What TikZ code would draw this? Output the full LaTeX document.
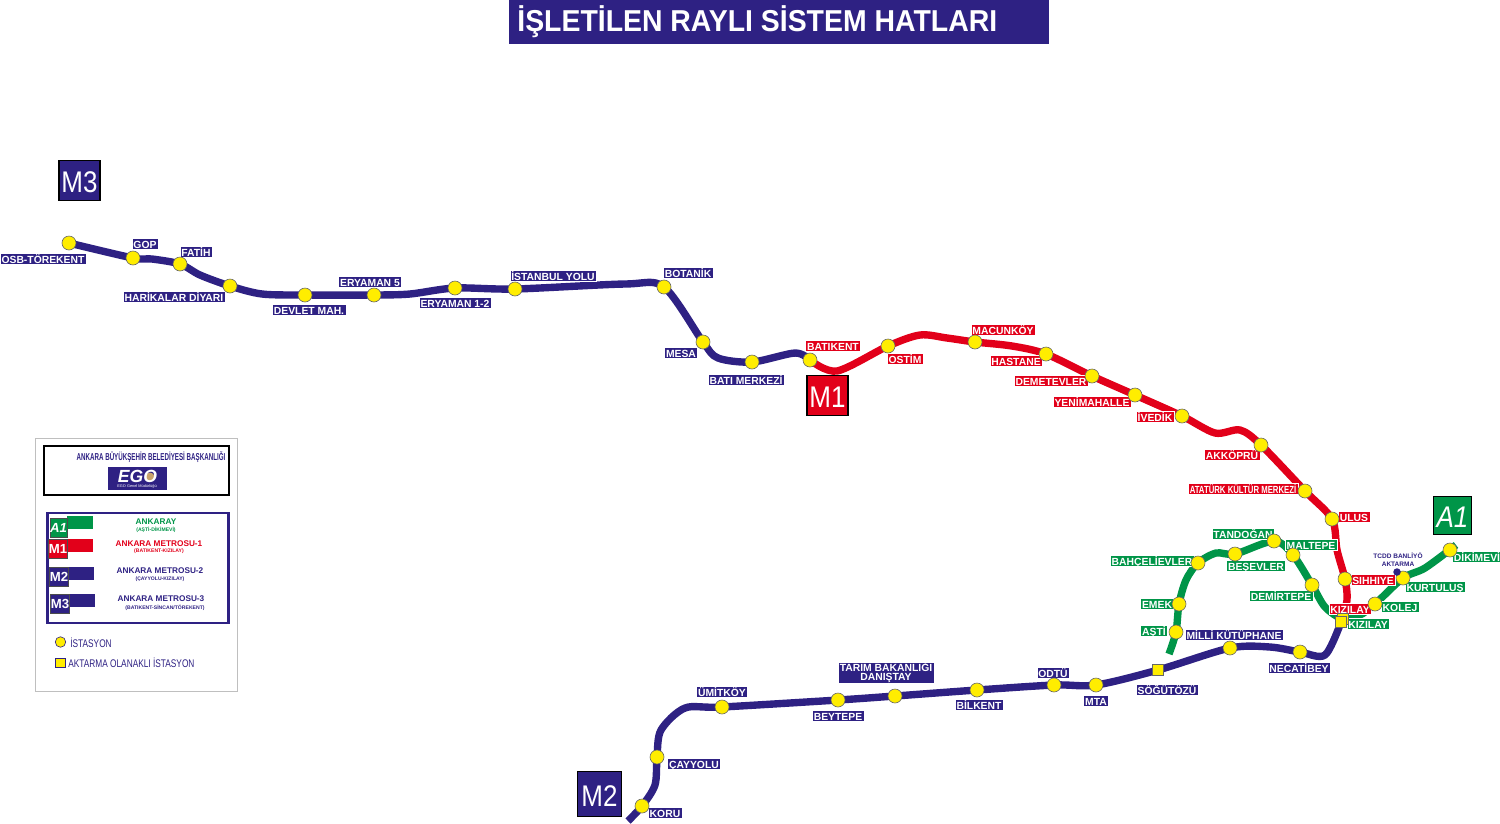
\documentclass[tikz,border=0pt]{standalone}
\usepackage{fontspec}
\setmainfont{Liberation Sans}
\newfontfamily\condfont[FakeStretch=0.75]{Liberation Sans}
\newfontfamily\narrowfont[FakeStretch=0.62]{Liberation Sans}
\newfontfamily\titlefont[FakeStretch=0.94]{Liberation Sans}
\newfontfamily\badgefont[FakeStretch=0.87]{Liberation Sans}
\usepackage{xcolor}
\usetikzlibrary{
    backgrounds,
    positioning
}
\definecolor{egonavy}{HTML}{2E2183}
\definecolor{egored}{HTML}{E2001A}
\definecolor{egogreen}{HTML}{009548}
\definecolor{egoyellow}{HTML}{FFED00}
\definecolor{egotan}{HTML}{C9A36B}

\begin{document}
\begin{tikzpicture}[
        x=0.02cm,
        y=-0.02cm,
        station/.style={
            circle,
            draw=black!60,
            fill=egoyellow,
            line width=0.35pt,
            inner sep=0pt,
            minimum size=0.28cm
        },
        transfer/.style={
            rectangle,
            draw=black!60,
            fill=egoyellow,
            line width=0.35pt,
            inner sep=0pt,
            minimum size=0.22cm
        },
        tagbase/.style={
            draw=white,
            line width=0.2pt,
            text=white,
            inner xsep=0.9pt,
            inner ysep=0.5pt,
            font=\fontsize{5.9}{7}\selectfont\bfseries
        },
        tag/.style={
            tagbase,
            text height=4.9pt,
            text depth=0.2pt
        },
        badge/.style={
            draw=black,
            line width=1.1pt,
            text=white,
            minimum width=0.82cm,
            minimum height=0.8cm,
            inner sep=0pt,
            text height=14pt,
            text depth=0pt,
            font=\badgefont\fontsize{17}{18}\selectfont
        },
        minibadge/.style={
            draw=black!70,
            line width=0.4pt,
            text=white,
            minimum width=0.32cm,
            minimum height=0.38cm,
            inner sep=0pt,
            font=\fontsize{7.5}{8}\selectfont\bfseries
        },
        bar/.style={
            minimum width=0.54cm,
            minimum height=0.26cm,
            inner sep=0pt
        },
        legendname/.style={
            inner sep=0pt,
            font=\fontsize{4.7}{6}\selectfont\bfseries
        },
        legendsub/.style={
            inner sep=0pt,
            font=\fontsize{2.9}{3.5}\selectfont\bfseries
        },
        legendnote/.style={
            anchor=west,
            inner sep=0pt,
            text=egonavy,
            font=\condfont\fontsize{6.3}{7}\selectfont
        },
        line/.style={
            line width=4.2pt,
            line join=round,
            smooth,
            tension=0.5
        }
    ]

    \useasboundingbox (0,0) rectangle (1500,823);

    % title
    \node[fill=egonavy, minimum width=10.8cm, minimum height=0.88cm, inner sep=0pt] (title) at (779,22) {};
    \node[anchor=west, inner sep=0pt, text=white, font=\titlefont\fontsize{17.2}{19}\selectfont\bfseries] (titletext) at (517,22)
        {İŞLETİLEN RAYLI SİSTEM HATLARI};

    % stations
    \foreach \name/\x/\y in {
        osb/69/243, gop/133/258, fatih/180/264, harikalar/230/286, devlet/305/295,
        eryamanfive/374/295, eryamanone/455/288, istanbul/515/289, botanik/664/287,
        mesa/703/342, batimerkezi/752/362, batikent/810/360,
        ostim/888/346, macunkoy/975/342, hastane/1046/354, demetevler/1092/376,
        yenimahalle/1135/395, ivedik/1182/416, akkopru/1261/445, ataturk/1305/491,
        ulus/1332/519, sihhiye/1345/579,
        koru/642/806, cayyolu/657/757, umitkoy/722/707, beytepe/838/700, tarim/895/696,
        bilkent/977/690, odtu/1054/685, mta/1096/685, milli/1230/648, necatibey/1300/652,
        asti/1176/632, emek/1179/604, bahcelievler/1198/563, besevler/1235/554,
        tandogan/1274/541, maltepe/1293/555, demirtepe/1312/585,
        kolej/1375/604, kurtulus/1403/578, dikimevi/1450/550
    }
        \node[station] (\name) at (\x,\y) {};

    \node[transfer] (kizilayback) at (1343,619) {};
    \node[transfer] (kizilay) at (1341,622) {};
    \node[transfer] (sogutozu) at (1158,670) {};

    \node[circle, fill=egonavy, inner sep=0pt, minimum size=0.15cm] (banliyo) at (1397,572) {};
    \node[text=egonavy, inner sep=0pt, align=center, font=\fontsize{3.7}{4.6}\selectfont\bfseries] (banliyotext) at (1398,560)
        {TCDD BANLİYÖ\\AKTARMA};

    % free line ends and bends
    \coordinate (mone) at (837,371);
    \coordinate (mtwo) at (920,335);
    \coordinate (mbend) at (947,338);
    \coordinate (mhas) at (1012,346);
    \coordinate (mthree) at (1215,433);
    \coordinate (mfour) at (1240,430);
    \coordinate (mfive) at (1337,550);
    \coordinate (msix) at (1347,600);
    \coordinate (koruend) at (628,821);
    \coordinate (cayone) at (655,785);
    \coordinate (caytwo) at (661,730);
    \coordinate (caythree) at (685,708);
    \coordinate (necone) at (1270,647);
    \coordinate (nectwo) at (1325,655);
    \coordinate (astiend) at (1169,654);
    \coordinate (emekone) at (1186,580);
    \coordinate (bahone) at (1216,553);
    \coordinate (demone) at (1325,607);
    \coordinate (kolone) at (1360,615);
    \coordinate (kurone) at (1425,568);
    \coordinate (dikend) at (1456,545);
    \coordinate (batione) at (795,353);
    \coordinate (mesaone) at (718,358);
    \coordinate (gopone) at (152,259);
    \coordinate (fatone) at (200,275);
    \coordinate (harone) at (262,294);
    \coordinate (eryone) at (410,294);
    \coordinate (botone) at (625,284);

    \begin{pgfonlayer}{background}
        \draw[line, color=egonavy] plot coordinates {
            (osb) (gop) (gopone) (fatih) (fatone) (harikalar) (harone) (devlet) (eryamanfive) (eryone)
            (eryamanone) (istanbul) (botone) (botanik) (mesa) (mesaone) (batimerkezi) (batione) (batikent)};
        \draw[line, color=egogreen] plot coordinates {
            (astiend) (asti) (emek) (emekone) (bahcelievler) (bahone) (besevler) (tandogan) (maltepe)
            (demirtepe) (demone) (kizilayback) (kolone) (kolej) (kurtulus) (kurone) (dikend)};
        \draw[line, color=egored] plot coordinates {
            (batikent) (mone) (ostim) (mtwo) (mbend) (macunkoy) (mhas) (hastane) (demetevler) (yenimahalle)
            (ivedik) (mthree) (mfour) (akkopru) (ataturk) (ulus) (mfive) (sihhiye) (msix) (kizilay)};
        \draw[line, color=egonavy] plot coordinates {
            (koruend) (koru) (cayone) (cayyolu) (caytwo) (caythree) (umitkoy) (beytepe) (tarim)
            (bilkent) (odtu) (mta) (sogutozu) (milli) (necone) (necatibey) (nectwo) (kizilay)};

        % station names
        \foreach \name/\x/\y/\txt in {
            tagosb/43/259/OSB-TÖREKENT, taggop/145/244/GOP, tagfatih/196/252/FATİH,
            tagharikalar/174/297/HARİKALAR DİYARI, tagdevlet/309/310/DEVLET MAH.,
            tageryamanfive/370/282/ERYAMAN 5, tageryamanone/455/303/ERYAMAN 1-2,
            tagistanbul/553/276/İSTANBUL YOLU, tagbotanik/688/273/BOTANİK, tagmesa/681/353/MESA,
            tagbatimerkezi/746/380/BATI MERKEZİ, tagumitkoy/722/692/ÜMİTKÖY,
            tagcayyolu/694/764/ÇAYYOLU, tagkoru/665/813/KORU, tagbeytepe/838/716/BEYTEPE,
            tagbilkent/979/705/BİLKENT, tagodtu/1053/673/ODTÜ, tagmta/1096/701/MTA,
            tagsogutozu/1167/690/SÖĞÜTÖZÜ, tagmilli/1234/635/MİLLİ KÜTÜPHANE,
            tagnecatibey/1299/668/NECATİBEY
        }
            \node[tag, fill=egonavy] (\name) at (\x,\y) {\txt};

        \node[tagbase, fill=egonavy, align=center, minimum width=1.88cm,
            font=\fontsize{5.9}{4.7}\selectfont\bfseries] (tagtarim) at (886,672.5)
            {TARIM BAKANLIĞI\\DANIŞTAY};

        \foreach \name/\x/\y/\txt in {
            tagbatikent/833/346/BATIKENT, tagostim/905/359/OSTİM, tagmacunkoy/1003/330/MACUNKÖY,
            taghastane/1016/361/HASTANE, tagdemetevler/1051/381/DEMETEVLER,
            tagyenimahalle/1092/402/YENİMAHALLE, tagivedik/1155/417/İVEDİK,
            tagakkopru/1232/455/AKKÖPRÜ, tagulus/1354/517/ULUS, tagsihhiye/1373/580/SIHHIYE,
            tagkizilayred/1350/609/KIZILAY
        }
            \node[tag, fill=egored] (\name) at (\x,\y) {\txt};

        \node[tag, fill=egored, font=\condfont\fontsize{5.9}{7}\selectfont\bfseries] (tagataturk) at (1243,489)
            {ATATÜRK KÜLTÜR MERKEZİ};

        \foreach \name/\x/\y/\txt in {
            tagtandogan/1243/534/TANDOĞAN, tagmaltepe/1311/545/MALTEPE,
            tagbahcelievler/1152/561/BAHÇELİEVLER, tagbesevler/1256/566/BEŞEVLER,
            tagdemirtepe/1281/596/DEMİRTEPE, tagemek/1157/604/EMEK, tagasti/1154/631/AŞTİ,
            tagkizilaygreen/1368/624/KIZILAY, tagkolej/1400/607/KOLEJ,
            tagkurtulus/1435/587/KURTULUŞ, tagdikimevi/1477/557/DİKİMEVİ
        }
            \node[tag, fill=egogreen] (\name) at (\x,\y) {\txt};
    \end{pgfonlayer}

    % line badges
    \node[badge, fill=egonavy] (badgemthree) at (79.5,180.5) {M3};
    \node[badge, fill=egored] (badgemone) at (827.5,395.5) {M1};
    \node[badge, fill=egonavy, minimum width=0.88cm, minimum height=0.9cm] (badgemtwo) at (599.5,794) {M2};
    \node[badge, fill=egogreen, minimum width=0.76cm, minimum height=0.76cm,
        font=\badgefont\fontsize{17}{18}\selectfont\itshape] (badgeaone) at (1452.5,515.5) {A1};

    % legend
    \node[draw=black!25, line width=0.5pt, minimum width=4.04cm, minimum height=5.06cm, inner sep=0pt] (legendframe) at (136,564.5) {};
    \node[draw=black, line width=0.9pt, minimum width=3.7cm, minimum height=0.98cm, inner sep=0pt] (legendhead) at (136.5,470.5) {};
    \node[inner sep=0pt, text=egonavy, font=\narrowfont\fontsize{5.7}{6}\selectfont\bfseries] (legendtitle) at (151,457)
        {ANKARA BÜYÜKŞEHİR BELEDİYESİ BAŞKANLIĞI};
    \node[fill=egonavy, minimum width=1.18cm, minimum height=0.46cm, inner sep=0pt] (egologo) at (137.5,478.5) {};
    \node[circle, fill=egotan, inner sep=0pt, minimum size=0.18cm] (egodot) at (150,477) {};
    \node[text=white, inner sep=0pt, font=\fontsize{10}{10}\selectfont\bfseries\itshape] (egotext) at (137.5,476.5) {EGO};
    \node[text=white, inner sep=0pt, font=\fontsize{2.2}{3}\selectfont] (egosub) at (137,486) {EGO Genel Müdürlüğü};
    \node[draw=egonavy, line width=1.5pt, minimum width=3.62cm, minimum height=2.2cm, inner sep=0pt] (legendbox) at (138,568) {};

    \node[bar, fill=egogreen] (baraone) at (80,522.5) {};
    \node[bar, fill=egored] (barmone) at (79.5,545.5) {};
    \node[bar, fill=egonavy] (barmtwo) at (80.5,573.5) {};
    \node[bar, fill=egonavy] (barmthree) at (81.5,600) {};
    \node[minibadge, fill=egogreen, font=\fontsize{7.5}{8}\selectfont\bfseries\itshape] (minia) at (58.5,527.5) {A1};
    \node[minibadge, fill=egored] (minimone) at (58,549) {M1};
    \node[minibadge, fill=egonavy] (minimtwo) at (59,577) {M2};
    \node[minibadge, fill=egonavy] (minimthree) at (60,604) {M3};

    \node[legendname, text=egogreen] (nameaone) at (156,522) {ANKARAY};
    \node[legendsub, text=egogreen] (subaone) at (156,530) {(AŞTİ-DİKİMEVİ)};
    \node[legendname, text=egored] (namemone) at (159,544) {ANKARA METROSU-1};
    \node[legendsub, text=egored] (submone) at (159,551) {(BATIKENT-KIZILAY)};
    \node[legendname, text=egonavy] (namemtwo) at (160,571) {ANKARA METROSU-2};
    \node[legendsub, text=egonavy] (submtwo) at (160,579) {(ÇAYYOLU-KIZILAY)};
    \node[legendname, text=egonavy] (namemthree) at (161,599) {ANKARA METROSU-3};
    \node[legendsub, text=egonavy] (submthree) at (165,608) {(BATIKENT-SİNCAN/TÖREKENT)};

    \node[station, minimum size=0.21cm, draw=egonavy] (keystation) at (60.5,642) {};
    \node[legendnote] (keystationtext) at (70,643) {İSTASYON};
    \node[transfer, minimum size=0.19cm, draw=egonavy] (keytransfer) at (60.5,663) {};
    \node[legendnote] (keytransfertext) at (68,663) {AKTARMA OLANAKLI İSTASYON};

\end{tikzpicture}
\end{document}
